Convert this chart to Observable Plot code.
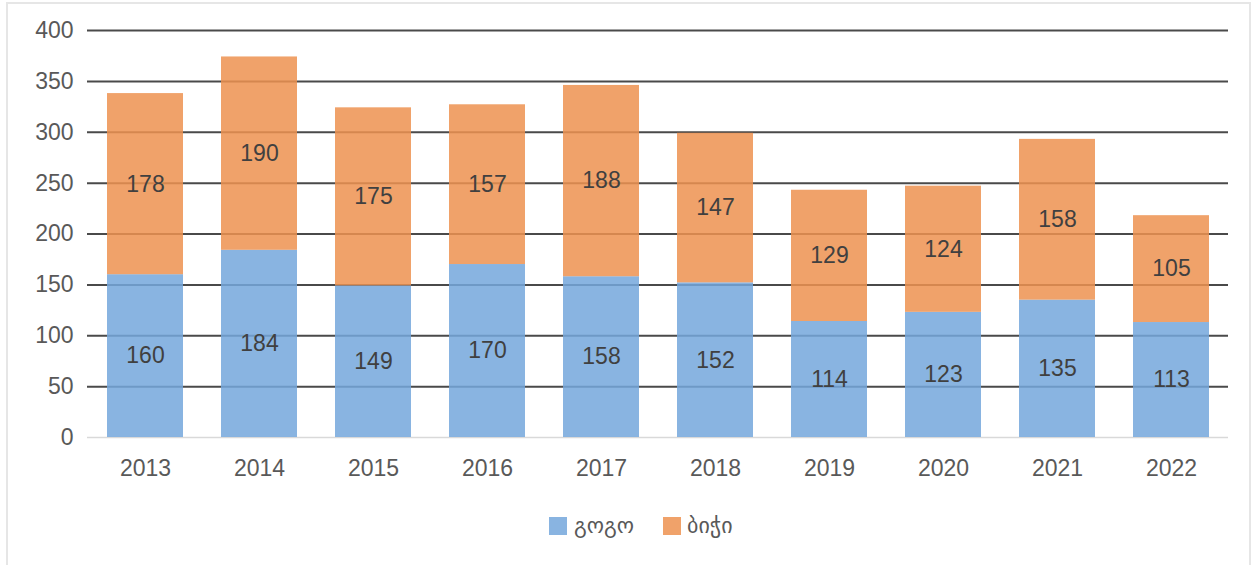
<!DOCTYPE html>
<html>
<head>
<meta charset="utf-8">
<script src="https://cdn.jsdelivr.net/npm/d3@7"></script>
<script src="https://cdn.jsdelivr.net/npm/@observablehq/plot@0.6"></script>
<style>
  html, body { margin: 0; padding: 0; background: #fff; width: 1255px; height: 565px; overflow: hidden; }
  #frame { position: absolute; left: 6px; top: 2px; width: 1245px; height: 620px; border: 2px solid #e6e6e6; border-bottom: none; box-sizing: border-box; }
  #chart { position: absolute; left: 0; top: 0; }
  #legend { position: absolute; top: 0; left: 0; font-family: "Liberation Sans", Arial, "DejaVu Sans", sans-serif; font-size: 22px; color: #595959; }
  .sw { position: absolute; width: 18px; height: 18px; top: 517px; }
  .lt { position: absolute; top: 512px; line-height: 28px; white-space: nowrap; }
</style>
</head>
<body>
<div id="frame"></div>
<div id="chart"></div>
<div id="legend"></div>
<script>
const years = ["2013","2014","2015","2016","2017","2018","2019","2020","2021","2022"];
const girls = [160,184,149,170,158,152,114,123,135,113];
const boys  = [178,190,175,157,188,147,129,124,158,105];
const seriesNames = ["გოგო", "ბიჭი"];
const seriesColors = ["#74A7DC", "#ED9250"];
const yTicks = [0,50,100,150,200,250,300,350,400];

const rows = [];
years.forEach((y, i) => rows.push({year: y, series: seriesNames[0], value: girls[i]}));
years.forEach((y, i) => rows.push({year: y, series: seriesNames[1], value: boys[i]}));

const chart = Plot.plot({
  width: 1255,
  height: 490,
  marginLeft: 87,
  marginRight: 27,
  marginTop: 30,
  marginBottom: 53,
  style: { fontFamily: "'Liberation Sans', Arial, sans-serif", fontSize: "23px", color: "#595959", background: "transparent" },
  x: { domain: years, paddingInner: 0.335, paddingOuter: 0.1675, label: null },
  y: { domain: [0, 400], label: null },
  color: { domain: seriesNames, range: seriesColors },
  marks: [
    Plot.ruleY(yTicks.filter(d => d > 0), { stroke: "#4a4a4a", strokeWidth: 2 }),
    Plot.ruleY([0], { stroke: "#d9d9d9", strokeWidth: 1.5 }),
    Plot.barY(rows, { x: "year", y: "value", fill: "series", fillOpacity: 0.85 }),
    Plot.text(rows, Plot.stackY({ x: "year", y: "value", z: "series", text: d => String(d.value), fill: "#404040", fontSize: 23 })),
    Plot.axisY({ ticks: yTicks, tickSize: 0, tickPadding: 14, label: null, fontSize: 23 }),
    Plot.axisX({ tickSize: 0, tickPadding: 22, label: null, fontSize: 23 })
  ]
});
document.getElementById("chart").appendChild(chart);

const legend = document.getElementById("legend");
const swX = [549, 663];
const txX = [574, 687];
seriesNames.forEach((n, i) => {
  const sw = document.createElement("div");
  sw.className = "sw";
  sw.style.left = swX[i] + "px";
  sw.style.background = seriesColors[i];
  sw.style.opacity = 0.85;
  const t = document.createElement("div");
  t.className = "lt";
  t.style.left = txX[i] + "px";
  t.textContent = n;
  legend.appendChild(sw); legend.appendChild(t);
});
</script>
</body>
</html>
